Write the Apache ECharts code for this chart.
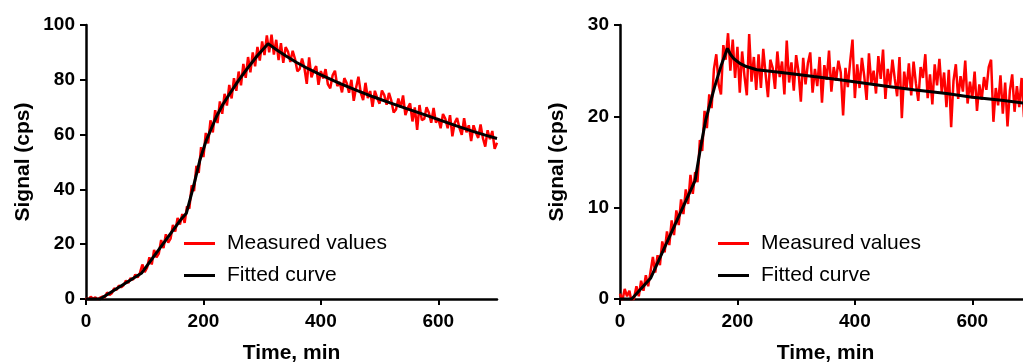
<!DOCTYPE html>
<html>
<head>
<meta charset="utf-8">
<script src="https://cdn.jsdelivr.net/npm/echarts@6/dist/echarts.min.js"></script>
<style>
  html, body { margin: 0; padding: 0; background: #fff; }
  #chart { width: 1023px; height: 364px; }
</style>
</head>
<body>
<div id="chart"></div>
<script>
// ---------- DATA ----------
const seriesNames = ['Measured values', 'Fitted curve'];
const xTicks = [0, 200, 400, 600];
const sampleStepMin = 4; // measured values sampled every 4 min, starting at 0

// Left panel – measured signal (cps), t = 0, 4, 8, ... 700 min
const leftMeasured = [
  0.4, -0.3, 0.8, 0.1, 0.6, -0.2, 0.5, 0.9, 0.6, 2.4,
  1.5, 2.1, 3.9, 3.3, 4.9, 4.3, 5.0, 6.7, 5.9, 7.6,
  7.0, 8.9, 7.9, 9.6, 12.6, 9.8, 11.4, 15.2, 12.6, 17.9,
  15.2, 16.6, 21.5, 18.6, 23.6, 20.6, 22.0, 27.0, 24.6, 29.6,
  27.2, 31.0, 27.8, 33.8, 33.0, 41.5, 39.4, 48.6, 46.0, 55.4,
  51.8, 60.6, 56.8, 65.2, 60.8, 68.9, 64.2, 72.1, 67.6, 74.9,
  70.6, 78.1, 73.2, 80.6, 76.0, 83.0, 78.0, 85.8, 80.7, 88.3,
  82.7, 90.0, 84.9, 92.0, 87.0, 94.0, 89.0, 96.2, 90.0, 96.5,
  89.2, 94.6, 87.2, 93.4, 86.2, 91.9,
  90.3, 86.5, 90.6, 87.6, 83.1, 84.0, 87.8, 84.3, 78.5, 88.2,
  80.9, 83.4, 85.0, 78.2, 83.2, 80.5, 83.9, 78.3, 76.9, 81.6,
  83.3, 77.7, 79.2, 75.4, 80.6, 78.8, 75.3, 80.0, 72.3, 77.1,
  81.1, 75.2, 72.6, 78.9, 73.3, 75.9, 70.1, 76.0, 73.3, 71.3,
  76.1, 74.4, 70.9, 75.2, 72.4, 68.1, 69.2, 73.2, 69.8, 74.3,
  67.1, 69.7, 71.4, 64.8, 69.9, 61.7, 70.8, 65.3, 65.7, 70.0,
  68.0, 64.3, 69.7, 64.4, 66.0, 62.3, 67.5, 65.8, 62.3, 67.1,
  59.4, 64.3, 66.0, 62.5, 59.9, 66.0, 60.8, 63.4, 57.6, 63.4,
  60.8, 58.8, 63.7, 58.7, 55.6, 61.6, 58.3, 61.3, 54.8, 57.0
];

// Left panel – fitted curve knots [time, signal]
const leftFit = [
  [0, 0], [24, 0], [95, 9.5], [163, 29.4], [171, 31.3], [183, 41], [194, 50.7],
  [205, 58], [214, 62.5], [222, 66.5], [233, 71], [245, 75], [259, 79.5],
  [273, 83.6], [291, 88.6], [310, 93.2], [325, 90.9], [340, 88.8], [358, 86.4],
  [376, 84.3], [400, 81.8], [432, 78.7], [460, 76.2], [489, 73.8], [518, 71.6],
  [546, 69.5], [575, 67.4], [603, 65.3], [631, 63.2], [659, 61.2], [680, 59.8],
  [700, 58.6]
];

// Right panel – measured signal (cps), t = 0, 4, 8, ... 700 min
const rightMeasured = [
  0.6, -0.2, 1.1, 0.3, 0.9, -0.4, 0.1, 1.4, 0.3, 2.0,
  0.9, 2.6, 1.4, 3.0, 4.6, 2.9, 4.8, 3.7, 6.3, 5.1,
  7.4, 5.9, 8.6, 7.0, 9.7, 8.1, 10.9, 9.3, 12.0, 10.4,
  13.6, 11.5, 13.9, 12.8, 17.4, 16.2, 20.6, 18.7, 22.4, 20.9,
  25.2, 26.8, 23.5, 22.4, 27.8, 26.2,
  29.1, 25.0, 28.4, 24.2, 27.6, 22.6, 27.1, 24.4, 22.3, 29.0,
  23.8, 26.5, 22.9,
  26.8, 23.1, 27.4, 24.6, 22.1, 26.2, 25.3, 23.0, 27.1, 24.3,
  26.0, 22.4, 28.3, 23.7, 25.9, 22.8, 26.7, 24.9, 21.6, 26.4,
  23.5, 25.8, 27.0, 22.6, 25.2, 23.3, 26.5, 21.5, 25.6, 24.0,
  27.2, 22.7, 25.4, 23.9, 26.1, 24.8, 20.1, 25.3, 23.2, 26.0,
  28.4, 22.0, 25.7, 23.1, 26.4, 24.4, 21.8, 26.9, 23.6, 25.0,
  22.5, 26.6, 24.1, 27.3, 21.9, 25.2, 23.4, 26.2, 24.1, 22.2,
  26.5, 19.8, 24.9, 23.0, 25.8, 22.3, 26.0, 23.6, 21.7, 25.4,
  24.2, 26.8, 22.0, 24.6, 21.3, 25.7, 23.4, 26.3, 22.6, 24.8,
  21.0, 25.1, 18.8, 23.9, 25.7, 21.9, 24.4, 22.7, 26.1, 21.4,
  23.8, 22.0, 24.9, 20.6, 23.5, 21.8, 24.3, 22.9, 25.4, 26.2,
  19.4, 23.1, 21.2, 24.5, 20.3, 23.7, 18.9, 22.8, 24.6, 20.5,
  23.3, 21.0, 24.2, 19.9, 22.6, 21.1, 23.0
];

// Right panel – fitted curve knots [time, signal]
const rightFit = [
  [0, 0], [20, 0], [52, 2.27], [128, 13.0], [137, 16.5], [146, 19.6], [161, 23.2],
  [172, 25.5], [183, 27.45], [188, 26.8], [194, 26.3], [204, 25.8], [215, 25.45],
  [233, 25.1], [260, 24.9], [289, 24.7], [330, 24.35], [374, 24.0], [420, 23.6],
  [460, 23.25], [500, 22.9], [556, 22.5], [600, 22.1], [650, 21.75], [700, 21.35]
];

// ---------- BUILD ----------
function pairs(values) {
  return values.map((v, i) => [i * sampleStepMin, v]);
}

const FONT = "'Liberation Sans', Arial, Helvetica, sans-serif";
const gridW = 411, gridH = 274, gridTop = 25;

function xAxisCfg(gridIndex) {
  return {
    type: 'value', gridIndex, min: 0, max: 700, interval: 200,
    name: 'Time, min', nameLocation: 'middle', nameGap: 44,
    nameTextStyle: { fontFamily: FONT, fontSize: 21, fontWeight: 'bold', color: '#000' },
    axisLine: { show: true, onZero: false, lineStyle: { color: '#000', width: 2.5 } },
    axisTick: { show: true, length: 6, inside: false, customValues: xTicks, lineStyle: { color: '#000', width: 2 } },
    axisLabel: { customValues: xTicks, margin: 13, fontFamily: FONT, fontSize: 19, fontWeight: 'bold', color: '#000' },
    splitLine: { show: false }
  };
}
function yAxisCfg(gridIndex, max, interval) {
  return {
    type: 'value', gridIndex, min: 0, max, interval,
    name: 'Signal (cps)', nameLocation: 'middle', nameGap: 52,
    nameTextStyle: { fontFamily: FONT, fontSize: 21, fontWeight: 'bold', color: '#000' },
    axisLine: { show: true, onZero: false, lineStyle: { color: '#000', width: 2.5 } },
    axisTick: { show: true, length: 6, inside: false, lineStyle: { color: '#000', width: 2 } },
    axisLabel: { margin: 11, fontFamily: FONT, fontSize: 19, fontWeight: 'bold', color: '#000' },
    splitLine: { show: false }
  };
}
function legendCfg(left) {
  return {
    orient: 'vertical', left, top: 228, icon: 'rect',
    itemWidth: 31, itemHeight: 3, itemGap: 11,
    textStyle: { fontFamily: FONT, fontSize: 21, color: '#000', padding: [0, 0, 0, 7] },
    data: seriesNames
  };
}
function measuredSeries(idx, values) {
  return {
    name: seriesNames[0], type: 'line', xAxisIndex: idx, yAxisIndex: idx,
    data: pairs(values), showSymbol: false, symbol: 'none',
    lineStyle: { color: '#ff0000', width: 2.5 }, itemStyle: { color: '#ff0000' },
    z: 2
  };
}
function fitSeries(idx, knots) {
  return {
    name: seriesNames[1], type: 'line', xAxisIndex: idx, yAxisIndex: idx,
    data: knots, showSymbol: false, symbol: 'none',
    lineStyle: { color: '#000', width: 3 }, itemStyle: { color: '#000' },
    z: 3
  };
}

const chart = echarts.init(document.getElementById('chart'), null, { renderer: 'canvas' });
chart.setOption({
  animation: false,
  backgroundColor: '#fff',
  grid: [
    { left: 86, top: gridTop, width: gridW, height: gridH, outerBoundsMode: 'none', containLabel: false },
    { left: 620, top: gridTop, width: gridW, height: gridH, outerBoundsMode: 'none', containLabel: false }
  ],
  xAxis: [xAxisCfg(0), xAxisCfg(1)],
  yAxis: [yAxisCfg(0, 100, 20), yAxisCfg(1, 30, 10)],
  legend: [legendCfg(179), legendCfg(713)],
  series: [
    measuredSeries(0, leftMeasured), fitSeries(0, leftFit),
    measuredSeries(1, rightMeasured), fitSeries(1, rightFit)
  ]
});
</script>
</body>
</html>
